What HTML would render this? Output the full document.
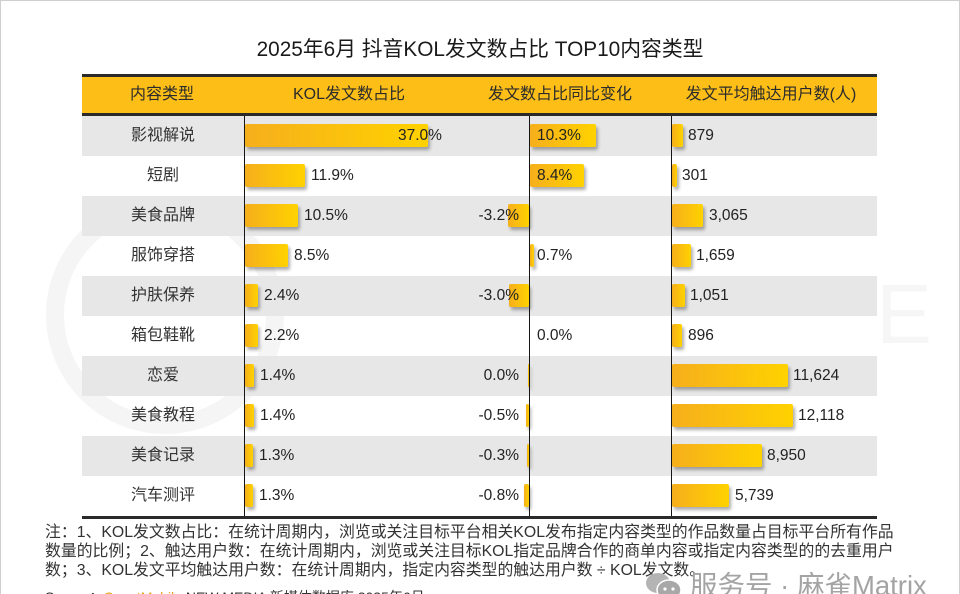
<!DOCTYPE html>
<html><head><meta charset="utf-8">
<style>
*{margin:0;padding:0;box-sizing:border-box}
html,body{width:960px;height:594px;overflow:hidden;background:#fff}
body{position:relative;font-family:"Liberation Sans","Noto Sans CJK SC",sans-serif;color:#222}
.frame{position:absolute;left:0;top:0;width:960px;height:600px;border:1px solid #cfcfcf;border-bottom:none}
.abs{position:absolute}
.title{left:0;width:960px;top:35px;text-align:center;font-size:20.8px;line-height:30px;color:#1a1a1a;white-space:nowrap}
.hline{position:absolute;left:82px;width:795px;height:3px;background:#2a2a2a}
.header{position:absolute;left:82px;top:77px;width:795px;height:36px;background:#FDBF17}
.hl{position:absolute;top:77px;height:36px;line-height:36px;font-size:16px;color:#2b2b2b;white-space:nowrap;transform:translateX(-50%)}
.row{position:absolute;left:82px;width:795px;height:40px}
.gray{background:#e7e7e7}
.lab{position:absolute;left:82px;width:162px;height:40px;line-height:40px;text-align:center;font-size:16px;color:#333;white-space:nowrap}
.vline{position:absolute;top:116px;height:400px;width:1.5px;background:#151515}
.bar{position:absolute;height:23px;border-radius:2px;background:linear-gradient(90deg,#F6AF1C,#FFD200);box-shadow:2px 3px 3px rgba(0,0,0,0.32)}
.v{position:absolute;height:40px;line-height:40px;font-size:15.5px;color:#222;white-space:nowrap}
.vr{text-align:right}
.note{left:45px;top:523px;font-size:15.85px;line-height:19px;color:#333;white-space:nowrap;font-family:"Liberation Sans","Noto Sans CJK SC",sans-serif}
.wm{left:690px;top:569px;font-size:27.5px;line-height:34px;color:#a4a4a4;white-space:nowrap}
.src{left:45px;top:588px;font-size:14px;line-height:18px;color:#333;white-space:nowrap}
</style></head><body>
<div class="frame"></div>

<svg class="abs" style="left:0;top:0" width="960" height="594">
<circle cx="165" cy="315" r="110" fill="none" stroke="#f5f5f5" stroke-width="18"/>
<text x="876" y="343" font-family="Liberation Sans, sans-serif" font-size="84" fill="#f6f6f6">E</text>
</svg>

<div class="abs title">2025年6月 抖音KOL发文数占比 TOP10内容类型</div>

<div class="header"></div>
<div class="hline" style="top:74px"></div>
<div class="hline" style="top:113px"></div>
<div class="hl" style="left:162px">内容类型</div>
<div class="hl" style="left:349px">KOL发文数占比</div>
<div class="hl" style="left:560px">发文数占比同比变化</div>
<div class="hl" style="left:771px">发文平均触达用户数(人)</div>

<div class="row gray" style="top:116px"></div>
<div class="row gray" style="top:196px"></div>
<div class="row gray" style="top:276px"></div>
<div class="row gray" style="top:356px"></div>
<div class="row gray" style="top:436px"></div>

<div class="lab" style="top:116px">影视解说</div>
<div class="lab" style="top:156px">短剧</div>
<div class="lab" style="top:196px">美食品牌</div>
<div class="lab" style="top:236px">服饰穿搭</div>
<div class="lab" style="top:276px">护肤保养</div>
<div class="lab" style="top:316px">箱包鞋靴</div>
<div class="lab" style="top:356px">恋爱</div>
<div class="lab" style="top:396px">美食教程</div>
<div class="lab" style="top:436px">美食记录</div>
<div class="lab" style="top:476px">汽车测评</div>

<div class="bar" style="left:245px;top:124px;width:183px"></div>
<div class="bar" style="left:245px;top:164px;width:60px"></div>
<div class="bar" style="left:245px;top:204px;width:53px"></div>
<div class="bar" style="left:245px;top:244px;width:43px"></div>
<div class="bar" style="left:245px;top:284px;width:13px"></div>
<div class="bar" style="left:245px;top:324px;width:13px"></div>
<div class="bar" style="left:245px;top:364px;width:9px"></div>
<div class="bar" style="left:245px;top:404px;width:9px"></div>
<div class="bar" style="left:245px;top:444px;width:8px"></div>
<div class="bar" style="left:245px;top:484px;width:8px"></div>
<div class="v" style="left:398px;top:116px">37.0%</div>
<div class="v" style="left:311px;top:156px">11.9%</div>
<div class="v" style="left:304px;top:196px">10.5%</div>
<div class="v" style="left:294px;top:236px">8.5%</div>
<div class="v" style="left:264px;top:276px">2.4%</div>
<div class="v" style="left:264px;top:316px">2.2%</div>
<div class="v" style="left:260px;top:356px">1.4%</div>
<div class="v" style="left:260px;top:396px">1.4%</div>
<div class="v" style="left:259px;top:436px">1.3%</div>
<div class="v" style="left:259px;top:476px">1.3%</div>

<div class="bar" style="left:530px;top:124px;width:66px"></div>
<div class="bar" style="left:530px;top:164px;width:54px"></div>
<div class="bar" style="left:508px;top:204px;width:21px"></div>
<div class="bar" style="left:530px;top:244px;width:4px"></div>
<div class="bar" style="left:509px;top:284px;width:20px"></div>
<div class="bar" style="left:528px;top:364px;width:1px"></div>
<div class="bar" style="left:526px;top:404px;width:3px"></div>
<div class="bar" style="left:527px;top:444px;width:2px"></div>
<div class="bar" style="left:524px;top:484px;width:5px"></div>
<div class="v" style="left:537px;top:116px">10.3%</div>
<div class="v" style="left:537px;top:156px">8.4%</div>
<div class="v vr" style="right:441px;top:196px">-3.2%</div>
<div class="v" style="left:537px;top:236px">0.7%</div>
<div class="v vr" style="right:441px;top:276px">-3.0%</div>
<div class="v" style="left:537px;top:316px">0.0%</div>
<div class="v vr" style="right:441px;top:356px">0.0%</div>
<div class="v vr" style="right:441px;top:396px">-0.5%</div>
<div class="v vr" style="right:441px;top:436px">-0.3%</div>
<div class="v vr" style="right:441px;top:476px">-0.8%</div>

<div class="bar" style="left:672px;top:124px;width:11px"></div>
<div class="bar" style="left:672px;top:164px;width:5px"></div>
<div class="bar" style="left:672px;top:204px;width:31px"></div>
<div class="bar" style="left:672px;top:244px;width:19px"></div>
<div class="bar" style="left:672px;top:284px;width:13px"></div>
<div class="bar" style="left:672px;top:324px;width:10px"></div>
<div class="bar" style="left:672px;top:364px;width:116px"></div>
<div class="bar" style="left:672px;top:404px;width:121px"></div>
<div class="bar" style="left:672px;top:444px;width:90px"></div>
<div class="bar" style="left:672px;top:484px;width:57px"></div>
<div class="v" style="left:688px;top:116px">879</div>
<div class="v" style="left:682px;top:156px">301</div>
<div class="v" style="left:709px;top:196px">3,065</div>
<div class="v" style="left:696px;top:236px">1,659</div>
<div class="v" style="left:690px;top:276px">1,051</div>
<div class="v" style="left:688px;top:316px">896</div>
<div class="v" style="left:793px;top:356px">11,624</div>
<div class="v" style="left:798px;top:396px">12,118</div>
<div class="v" style="left:767px;top:436px">8,950</div>
<div class="v" style="left:735px;top:476px">5,739</div>

<div class="vline" style="left:243.5px"></div>
<div class="vline" style="left:528.5px"></div>
<div class="vline" style="left:670.5px"></div>
<div class="hline" style="top:516px"></div>

<div class="abs note">注：1、KOL发文数占比：在统计周期内，浏览或关注目标平台相关KOL发布指定内容类型的作品数量占目标平台所有作品<br>数量的比例；2、触达用户数：在统计周期内，浏览或关注目标KOL指定品牌合作的商单内容或指定内容类型的的去重用户<br>数；3、KOL发文平均触达用户数：在统计周期内，指定内容类型的触达用户数 ÷ KOL发文数。</div>

<div class="abs src">Source：<span style="color:#E8A317">QuestMobile</span> NEW MEDIA 新媒体数据库 2025年6月</div>

<svg class="abs" style="left:645px;top:572px" width="40" height="30">
<ellipse cx="13" cy="11" rx="12" ry="10" fill="#b4b4b4"/>
<ellipse cx="24" cy="18" rx="12" ry="10" fill="#a8a8a8" stroke="#fff" stroke-width="1.5"/>
<circle cx="20" cy="17" r="1.6" fill="#fff"/><circle cx="28" cy="17" r="1.6" fill="#fff"/>
</svg>
<div class="abs wm">服务号 · 麻雀Matrix</div>
</body></html>
